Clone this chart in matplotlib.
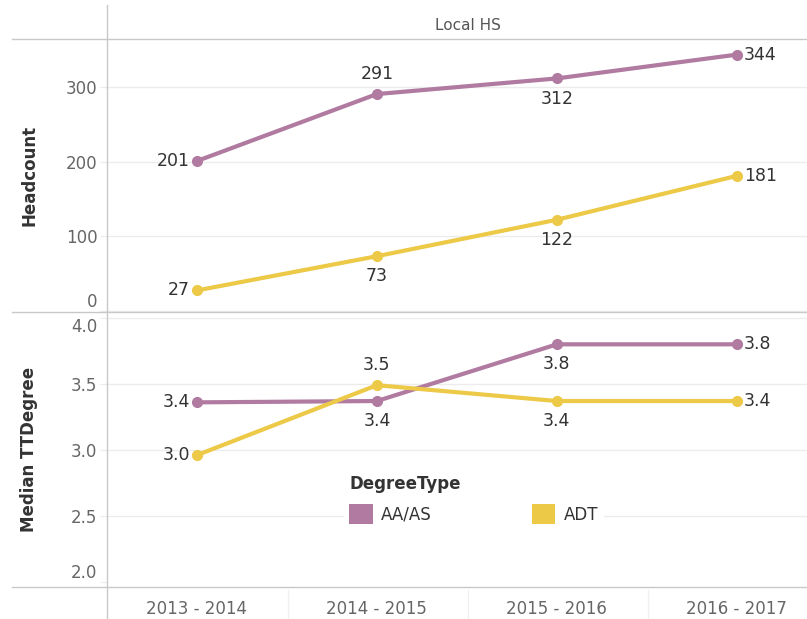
import matplotlib.pyplot as plt
from matplotlib.patches import Patch
from matplotlib.lines import Line2D

years = ["2013 - 2014", "2014 - 2015", "2015 - 2016", "2016 - 2017"]
degree_types = ["AA/AS", "ADT"]
colors = {"AA/AS": "#b07aa1", "ADT": "#edc948"}

headcount = {"AA/AS": [201, 291, 312, 344],
             "ADT": [27, 73, 122, 181]}
median_tt = {"AA/AS": [3.36, 3.37, 3.80, 3.80],
             "ADT": [2.96, 3.49, 3.37, 3.37]}

# where each data label goes relative to its point
head_pos = {"AA/AS": ["left", "above", "below", "right"],
            "ADT": ["left", "below", "below", "right"]}
tt_pos = {"AA/AS": ["left", "below", "below", "right"],
          "ADT": ["left", "above", "below", "right"]}

W, H = 807, 619
fig = plt.figure(figsize=(W / 100, H / 100), dpi=100)

def fx(px):
    return px / W

def fy(py):
    return 1 - py / H

ax1 = fig.add_axes([fx(107), fy(312), fx(700), (312 - 39) / H])
ax2 = fig.add_axes([fx(107), fy(587), fx(700), (587 - 312) / H])

grid_c = "#ececec"
text_c = "#333333"
tick_c = "#666666"

def place(ax, x, y, txt, pos):
    off = {"left": (-5, 0, "right", "center"),
           "right": (5, 0, "left", "center"),
           "above": (0, 8, "center", "bottom"),
           "below": (0, -8, "center", "top")}[pos]
    ax.annotate(txt, (x, y), xytext=off[:2], textcoords="offset points",
                ha=off[2], va=off[3], fontsize=12.5, color=text_c)

x = list(range(len(years)))
for d in degree_types:
    ax1.plot(x, headcount[d], color=colors[d], lw=3.0, marker="o", ms=7,
             solid_capstyle="round", zorder=3)
    for i, v in enumerate(headcount[d]):
        place(ax1, i, v, str(v), head_pos[d][i])
    ax2.plot(x, median_tt[d], color=colors[d], lw=3.0, marker="o", ms=7,
             solid_capstyle="round", zorder=3)
    for i, v in enumerate(median_tt[d]):
        place(ax2, i, v, f"{v:.1f}", tt_pos[d][i])

ax1.set_ylim(-2, 365)
ax1.set_yticks([0, 100, 200, 300])
ax2.set_ylim(1.96, 4.045)
ax2.set_yticks([2.0, 2.5, 3.0, 3.5, 4.0])
ax2.set_yticklabels(["2.0", "2.5", "3.0", "3.5", "4.0"])

for ax in (ax1, ax2):
    ax.set_xlim(-0.5, 3.39)
    ax.set_xticks(x)
    for s in ax.spines.values():
        s.set_visible(False)
    ax.grid(axis="y", color=grid_c, lw=1)
    ax.set_axisbelow(True)
    ax.tick_params(axis="y", length=5, color=grid_c, labelsize=12,
                   labelcolor=tick_c, pad=2)
    ax.tick_params(axis="x", length=0)

ax2.yaxis.get_major_ticks()[0].gridline.set_visible(False)

ax1.set_xticklabels([])
ax2.set_xticklabels(years, fontsize=12, color=tick_c)
ax2.tick_params(axis="x", pad=9)

# keep edge tick labels inside their panes like the original
ax1.get_yticklabels()[0].set_va("bottom")
ax2.get_yticklabels()[0].set_va("bottom")
ax2.get_yticklabels()[-1].set_va("top")

ax1.set_ylabel("Headcount", fontsize=12, color=text_c, fontweight="bold")
ax2.set_ylabel("Median TTDegree", fontsize=12, color=text_c, fontweight="bold")
for ax in (ax1, ax2):
    ax.yaxis.set_label_coords(fx(38 - 107) / fx(700), 0.5)

# frame lines
line_c = "#c8c8c8"
for py in (39, 312, 587):
    fig.add_artist(Line2D([fx(12), 1], [fy(py), fy(py)], color=line_c, lw=1))
fig.add_artist(Line2D([fx(107), fx(107)], [fy(5), 0], color=line_c, lw=1))
for px in (288, 468, 648):
    fig.add_artist(Line2D([fx(px), fx(px)], [fy(590), 0], color="#f0f0f0", lw=1))

fig.text(fx(468), fy(25), "Local HS", ha="center", va="center",
         fontsize=11, color="#555555")

handles = [Patch(facecolor=colors[d], edgecolor="none") for d in degree_types]
leg = ax2.legend(handles, degree_types, ncol=2, title="DegreeType",
                 loc="upper left", bbox_to_anchor=(fx(336), fy(462)),
                 bbox_transform=fig.transFigure, frameon=True,
                 facecolor="white", edgecolor="white", framealpha=1,
                 fontsize=12, title_fontproperties={"weight": "bold", "size": 12},
                 handlelength=1.4, handleheight=1.4, columnspacing=6.0,
                 handletextpad=0.5, borderpad=0.3, labelspacing=0.2)
leg._legend_box.align = "left"
leg._legend_box.sep = 8
for t in leg.get_texts():
    t.set_color(text_c)
leg.get_title().set_color(text_c)

fig.savefig("out.png", dpi=100, facecolor="white")
